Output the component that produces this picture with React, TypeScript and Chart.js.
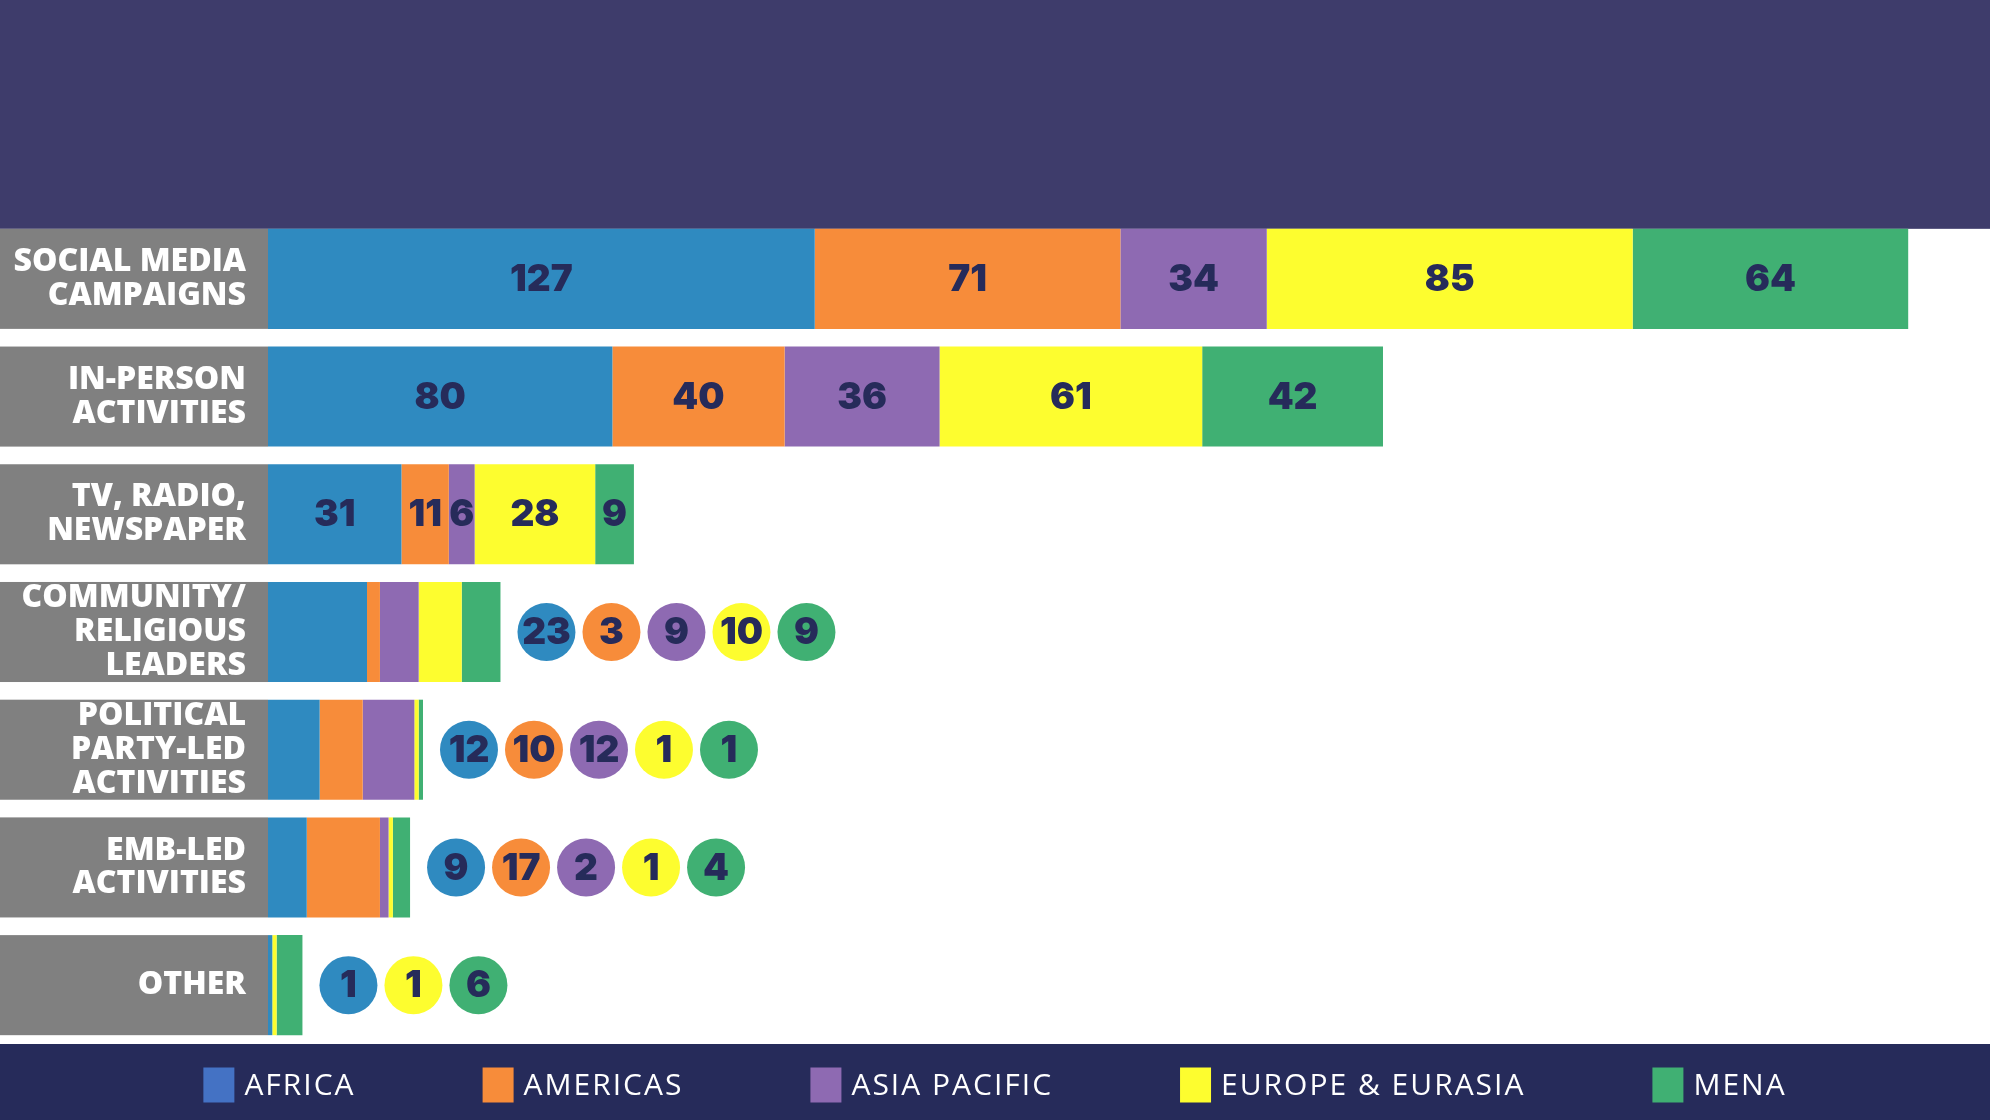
import React, { useEffect, useRef } from 'react';
import { Chart, registerables } from 'chart.js';

Chart.register(...registerables);

const categories = [
  ['SOCIAL MEDIA', 'CAMPAIGNS'],
  ['IN-PERSON', 'ACTIVITIES'],
  ['TV, RADIO,', 'NEWSPAPER'],
  ['COMMUNITY/', 'RELIGIOUS', 'LEADERS'],
  ['POLITICAL', 'PARTY-LED', 'ACTIVITIES'],
  ['EMB-LED', 'ACTIVITIES'],
  ['OTHER'],
];
const regions = ['AFRICA', 'AMERICAS', 'ASIA PACIFIC', 'EUROPE & EURASIA', 'MENA'];

const africa = [127, 80, 31, 23, 12, 9, 1];
const americas = [71, 40, 11, 3, 10, 17, 0];
const asiaPacific = [34, 36, 6, 9, 12, 2, 0];
const europeEurasia = [85, 61, 28, 10, 1, 1, 1];
const mena = [64, 42, 9, 9, 1, 4, 6];

// rows whose numbers sit inside the bar; the rest get bubbles
const insideLabelRows = [true, true, true, false, false, false, false];

const barColors = ['#2f8ac0', '#f78c3a', '#8e6ab2', '#fdfd2f', '#40b073'];
const legendColors = ['#4472c4', '#f78c3a', '#8e6ab2', '#fdfd2f', '#40b073'];

const NAVY = '#262b5a';
const TOP_BAND = '#3e3c6b';
const GREY = '#808080';
const LABEL_W = 268;

const decorPlugin = {
  id: 'decor',
  beforeDraw(chart: any) {
    const { ctx, chartArea, width, height } = chart;
    const meta = chart.getDatasetMeta(0);
    const first = meta.data[0];
    ctx.save();
    ctx.fillStyle = TOP_BAND;
    ctx.fillRect(0, 0, width, first.y - first.height / 2);
    ctx.fillStyle = NAVY;
    ctx.fillRect(0, chartArea.bottom, width, height - chartArea.bottom);
    ctx.fillStyle = GREY;
    meta.data.forEach((bar: any) => {
      ctx.fillRect(0, bar.y - bar.height / 2, chartArea.left, bar.height);
    });
    ctx.restore();
  },
  afterDatasetsDraw(chart: any) {
    const { ctx } = chart;
    const xScale = chart.scales.x;
    const datasets = chart.data.datasets;
    ctx.save();
    ctx.textAlign = 'center';
    ctx.textBaseline = 'middle';
    ctx.font = '900 37px Inter, "Open Sans", sans-serif';
    categories.forEach((_, i) => {
      if (insideLabelRows[i]) {
        datasets.forEach((ds: any, d: number) => {
          const v = ds.data[i];
          if (!v) return;
          const bar: any = chart.getDatasetMeta(d).data[i];
          ctx.fillStyle = NAVY;
          ctx.fillText(String(v), (bar.x + bar.base) / 2, bar.y + 1);
        });
      } else {
        const total = datasets.reduce((s: number, ds: any) => s + ds.data[i], 0);
        const end = xScale.getPixelForValue(total);
        const y = chart.getDatasetMeta(0).data[i].y;
        const r = 29;
        let cx = end + 17 + r;
        datasets.forEach((ds: any, d: number) => {
          const v = ds.data[i];
          if (!v) return;
          ctx.fillStyle = barColors[d];
          ctx.beginPath();
          ctx.arc(cx, y, r, 0, Math.PI * 2);
          ctx.fill();
          ctx.fillStyle = NAVY;
          ctx.fillText(String(v), cx, y + 1);
          cx += 65;
        });
      }
    });
    ctx.restore();
  },
  afterDraw(chart: any) {
    const { ctx, chartArea, width, height } = chart;
    ctx.save();
    ctx.font = '500 30px "Open Sans", sans-serif';
    (ctx as any).letterSpacing = '2px';
    ctx.textBaseline = 'middle';
    ctx.textAlign = 'left';
    const boxW = 31;
    const boxH = 35;
    const gap = 127;
    const widths = regions.map((r) => boxW + 10 + ctx.measureText(r).width);
    const total = widths.reduce((a, b) => a + b, 0) + gap * (regions.length - 1);
    let x = (width - total) / 2;
    const cy = (chartArea.bottom + height) / 2 + 3;
    regions.forEach((r, i) => {
      ctx.fillStyle = legendColors[i];
      ctx.fillRect(x, cy - boxH / 2, boxW, boxH);
      ctx.fillStyle = '#ffffff';
      ctx.fillText(r, x + boxW + 10, cy + 1);
      x += widths[i] + gap;
    });
    ctx.restore();
  },
};

export default function App() {
  const canvasRef = useRef<HTMLCanvasElement>(null);
  const chartRef = useRef<Chart | null>(null);

  useEffect(() => {
    document.body.style.margin = '0';
    if (!canvasRef.current) return;
    if (chartRef.current) chartRef.current.destroy();
    const series = [africa, americas, asiaPacific, europeEurasia, mena];
    chartRef.current = new Chart(canvasRef.current, {
      type: 'bar',
      data: {
        labels: categories,
        datasets: series.map((data, i) => ({
          label: regions[i],
          data,
          backgroundColor: barColors[i],
          borderWidth: 0,
          barPercentage: 0.85,
          categoryPercentage: 1,
        })),
      },
      options: {
        indexAxis: 'y',
        responsive: false,
        animation: false,
        devicePixelRatio: 1,
        layout: { padding: { top: 220, bottom: 76, left: 0, right: 0 } },
        plugins: {
          legend: { display: false },
          tooltip: { enabled: false },
        },
        scales: {
          x: { stacked: true, min: 0, max: 400, display: false },
          y: {
            stacked: true,
            grid: { display: false, drawTicks: false },
            border: { display: false },
            ticks: {
              color: '#ffffff',
              padding: 22,
              font: { family: '"Open Sans", sans-serif', weight: 800, size: 32, lineHeight: 1.06 },
            },
            afterFit: (scale: any) => {
              scale.width = LABEL_W;
            },
          },
        },
      },
      plugins: [decorPlugin],
    });
    return () => {
      if (chartRef.current) {
        chartRef.current.destroy();
        chartRef.current = null;
      }
    };
  }, []);

  return (
    <div style={{ width: 1990, height: 1120 }}>
      <canvas ref={canvasRef} width={1990} height={1120}></canvas>
    </div>
  );
}
